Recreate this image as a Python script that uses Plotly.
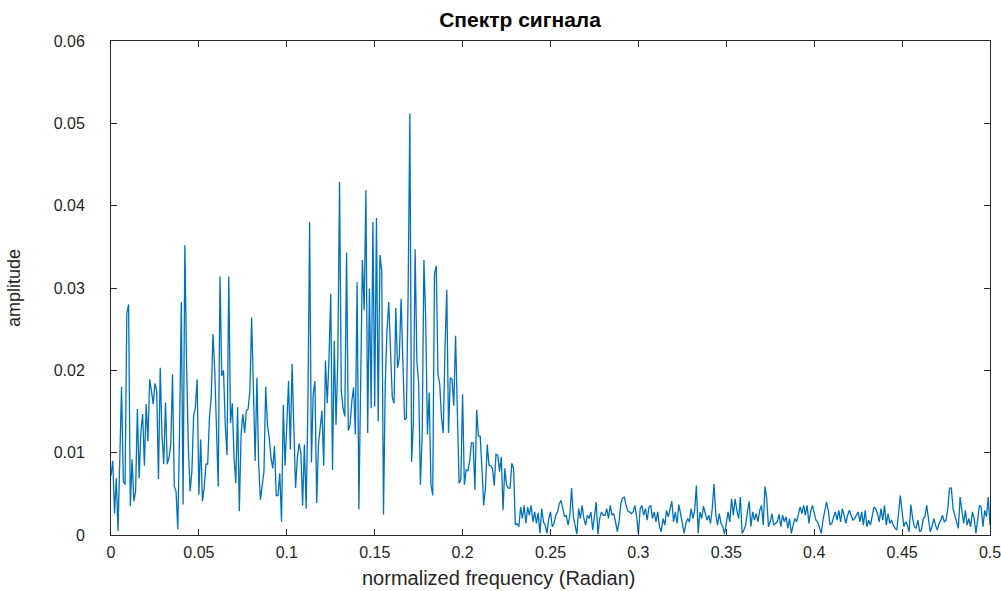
import numpy as np
import plotly.graph_objects as go

# amplitude spectrum values (0 .. 0.5, 501 bins)
amp_a = [0.0072, 0.009, 0.0026, 0.0069, 0.0005, 0.0086, 0.018, 0.0065, 0.0061, 0.0269,
         0.028, 0.0035, 0.0092, 0.0041, 0.0053, 0.0153, 0.0069, 0.0126, 0.0147, 0.0084,
         0.0159, 0.0114, 0.0189, 0.0175, 0.0159, 0.0184, 0.0175, 0.0068, 0.0203, 0.0122,
         0.0086, 0.0161, 0.0086, 0.0094, 0.011, 0.0195, 0.0059, 0.0053, 0.0007, 0.0126,
         0.0283, 0.0037, 0.0352, 0.0208, 0.0106, 0.0053, 0.0077, 0.0145, 0.0155, 0.0189,
         0.0049, 0.0116, 0.0041, 0.0057, 0.0086, 0.0086, 0.0143, 0.0167, 0.0244, 0.02,
         0.0118, 0.0059, 0.0314]
amp_b = [0.0193, 0.02, 0.0134, 0.0097, 0.0314, 0.0136, 0.016, 0.0094, 0.0063, 0.0155,
         0.0029, 0.0122, 0.0147, 0.0124, 0.0151, 0.0153, 0.0175, 0.0264, 0.0167, 0.009,
         0.0191, 0.0086, 0.0043, 0.0059, 0.0077, 0.018, 0.0134, 0.0118, 0.0094, 0.0081,
         0.0108, 0.0048, 0.0048, 0.0075, 0.0016, 0.0158, 0.0084, 0.0134, 0.0187, 0.0104,
         0.0208, 0.013, 0.0057, 0.0094, 0.0111, 0.01, 0.0036, 0.011, 0.0032, 0.0155,
         0.038, 0.0088, 0.0171, 0.0187, 0.0039, 0.011, 0.013, 0.0151, 0.0084, 0.0212,
         0.016, 0.0214, 0.0293]
amp_c = [0.0079, 0.0236, 0.0134, 0.0211, 0.0429, 0.0175, 0.0154, 0.0144, 0.0343, 0.0127,
         0.0134, 0.0163, 0.0179, 0.0122, 0.0307, 0.0031, 0.0197, 0.0334, 0.0273, 0.0419,
         0.0124, 0.0299, 0.0154, 0.038, 0.0156, 0.0385, 0.0138, 0.034, 0.0321, 0.0025,
         0.0183, 0.0248, 0.0283, 0.0228, 0.0167, 0.016, 0.0276, 0.0203, 0.0215, 0.0287,
         0.0195, 0.014, 0.0142, 0.0293, 0.0512, 0.0089, 0.0138, 0.0347, 0.0211, 0.0185,
         0.0061, 0.0122, 0.0334, 0.0264, 0.0122, 0.0173, 0.0061, 0.0048, 0.0317, 0.0327,
         0.0195, 0.0183, 0.0142]
amp_d = [0.0124, 0.0228, 0.0298, 0.0124, 0.0191, 0.0189, 0.0157, 0.0242, 0.0167, 0.0063,
         0.0067, 0.0171, 0.0061, 0.0079, 0.0078, 0.0089, 0.0112, 0.0112, 0.0055, 0.0152,
         0.012, 0.012, 0.0081, 0.0036, 0.0057, 0.011, 0.0085, 0.0084, 0.0081, 0.006,
         0.0098, 0.0097, 0.0077, 0.0095, 0.003, 0.0081, 0.0061, 0.0057, 0.0057, 0.0087,
         0.0081, 0.0012]
amp_e = [0.0014, 0.001, 0.0034, 0.002, 0.0036, 0.0014, 0.0034, 0.0024, 0.0036, 0.0016,
         0.0028, 0.0014, 0.0027, 0.0002, 0.0032, 0.0016, 0.0012, 0.0002, 0.002, 0.0028,
         0.001, 0.0014, 0.0024, 0.0028, 0.0038, 0.0042, 0.0032, 0.0022, 0.0024, 0.0012,
         0.0024, 0.0057, 0.0022, 0.0012, 0.0001, 0.0032, 0.002, 0.0036, 0.002, 0.0012,
         0.0024, 0.002, 0.0028, 0.0006, 0.002, 0.004, 0.0001, 0.002, 0.0028, 0.0024,
         0.0024, 0.0032, 0.002, 0.0036, 0.0024, 0.0026, 0.0016, 0.0004, 0.0016, 0.0038,
         0.0045, 0.0046, 0.0036, 0.0029, 0.0028, 0.0026]
amp_f = [0.0028, 0.0036, 0.0022, 0.0002, 0.0032, 0.0036, 0.0024, 0.0032, 0.0018, 0.0034,
         0.0036, 0.002, 0.0028, 0.0016, 0.0028, 0.001, 0.0004, 0.002, 0.0012, 0.003,
         0.0022, 0.0031, 0.0041, 0.0016, 0.0028, 0.0014, 0.0037, 0.0026, 0.0016, 0.0002,
         0.0014, 0.002, 0.0016, 0.0032, 0.002, 0.003, 0.006, 0.0002, 0.0028, 0.002,
         0.0035, 0.0026, 0.0018, 0.0024, 0.0014, 0.0032, 0.0062, 0.0026, 0.0012, 0.0026,
         0.0014, 0.001, 0.0001, 0.0014, 0.0028, 0.0016, 0.0044, 0.0024, 0.0044, 0.003,
         0.002, 0.0046, 0.0002, 0.0006, 0.0012, 0.0028, 0.0041]
amp_g = [0.001, 0.0028, 0.0018, 0.0026, 0.0016, 0.003, 0.0036, 0.0012, 0.0059, 0.0044,
         0.001, 0.0016, 0.0026, 0.0012, 0.0014, 0.0016, 0.0025, 0.001, 0.0024, 0.0016,
         0.0022, 0.0008, 0.002, 0.0002, 0.0012, 0.002, 0.0016, 0.0024, 0.0034, 0.0026,
         0.0036, 0.0024, 0.0036, 0.0014, 0.0029, 0.0036, 0.0028, 0.0018, 0.0016, 0.0008,
         0.0002, 0.0018, 0.0028, 0.004, 0.003, 0.0012, 0.0014, 0.002, 0.0028, 0.0018,
         0.003, 0.0016, 0.0032, 0.0024, 0.0014, 0.0024, 0.003, 0.0024, 0.0018, 0.002,
         0.0025, 0.0028, 0.0016, 0.0028, 0.0012, 0.003, 0.001, 0.0018]
amp_h = [0.0012, 0.0024, 0.0034, 0.0032, 0.0026, 0.0016, 0.0032, 0.0018, 0.0036, 0.0012,
         0.0026, 0.0014, 0.0018, 0.0012, 0.0008, 0.0006, 0.0028, 0.0048, 0.0028, 0.001,
         0.0016, 0.0012, 0.0004, 0.0037, 0.002, 0.001, 0.0008, 0.0018, 0.0004, 0.0006,
         0.002, 0.0022, 0.0036, 0.002, 0.0004, 0.001, 0.002, 0.0012, 0.0006, 0.0014,
         0.0018, 0.0024, 0.0016, 0.0018, 0.0032, 0.0057, 0.0057, 0.0032, 0.0024, 0.0016,
         0.0008, 0.0046, 0.0026, 0.0014, 0.003, 0.0012, 0.002, 0.001, 0.0028, 0.002,
         0.0002, 0.0016, 0.0036, 0.0034, 0.001, 0.003, 0.0022, 0.0046, 0.0012]

amplitude = amp_a + amp_b + amp_c + amp_d + amp_e + amp_f + amp_g + amp_h
freq = np.linspace(0, 0.5, len(amplitude))

x_ticks = [0, 0.05, 0.1, 0.15, 0.2, 0.25, 0.3, 0.35, 0.4, 0.45, 0.5]
y_ticks = [0, 0.01, 0.02, 0.03, 0.04, 0.05, 0.06]

fig = go.Figure()
fig.add_trace(go.Scatter(x=freq, y=amplitude, mode="lines",
                         line=dict(color="#0072BD", width=1.3), showlegend=False))

axis_common = dict(showline=True, linecolor="#262626", linewidth=1, mirror="ticks",
                   ticks="inside", ticklen=6, tickcolor="#262626", showgrid=False,
                   zeroline=False, automargin=False, ticklabeloverflow="allow",
                   tickfont=dict(family="Liberation Sans, Arial", size=16, color="#262626"))

fig.update_layout(
    width=1001, height=591,
    paper_bgcolor="white", plot_bgcolor="white",
    margin=dict(l=111, r=11, t=41, b=56),
    title=dict(text="<b>Спектр сигнала</b>", x=520 / 1001, xanchor="center",
               yref="container", y=1 - 20 / 591, yanchor="middle",
               font=dict(family="Liberation Sans, Arial", size=21, color="#000000")),
    xaxis=dict(range=[0, 0.5], tickvals=x_ticks, ticktext=[f"{v:g}" for v in x_ticks],
               ticklabelstandoff=3, **axis_common),
    yaxis=dict(range=[0, 0.06], tickvals=y_ticks, ticktext=[f"{v:g}" for v in y_ticks],
               ticklabelstandoff=22,
               title=dict(text="amplitude", standoff=28,
                          font=dict(family="Liberation Sans Narrow, Liberation Sans, Arial", size=18, color="#262626")),
               **axis_common),
    annotations=[dict(text="normalized frequency (Radian)", xref="paper", yref="paper",
                      x=0.4403, y=-0.087, xanchor="center", yanchor="middle", showarrow=False,
                      font=dict(family="Liberation Sans, Arial", size=20, color="#262626"))],
)

# remove the page's default 8px body margin so the figure fills the window exactly
fig.write_html("out.html", config={"displayModeBar": False},
               post_script="document.body.style.margin='0';")
